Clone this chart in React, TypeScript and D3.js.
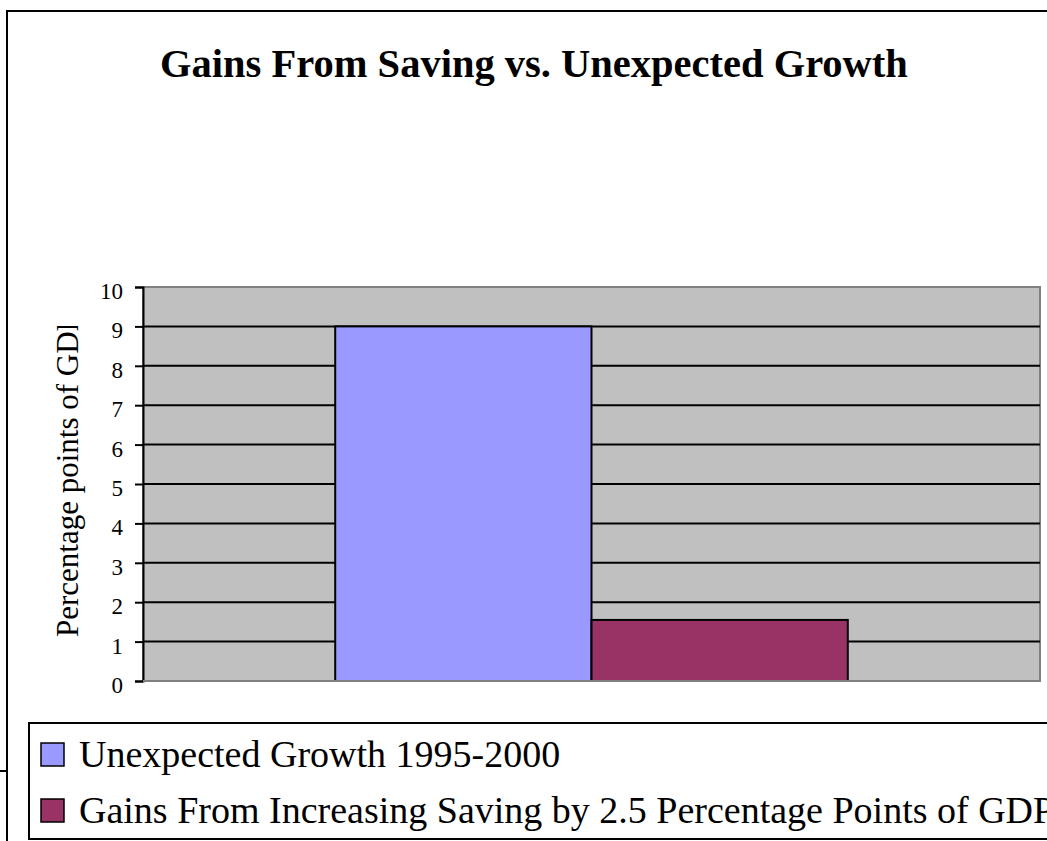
import React, { useRef, useEffect } from 'react';
import * as d3 from 'd3';

const categories = ['1995-2000'];
const seriesNames = [
    'Unexpected Growth 1995-2000',
    'Gains From Increasing Saving by 2.5 Percentage Points of GDP',
];
const seriesValues = [9, 1.55];
const seriesColors = ['#9999FF', '#993366'];
const yTicks = [0, 1, 2, 3, 4, 5, 6, 7, 8, 9, 10];

const title = 'Gains From Saving vs. Unexpected Growth';
const yTitle = 'Percentage points of GDP';

const W = 1047;
const H = 841;

const App: React.FC = () => {
    const ref = useRef<SVGSVGElement | null>(null);

    useEffect(() => {
        const svg = d3.select(ref.current);
        svg.selectAll('*').remove();

        const font = '"Liberation Serif", "Times New Roman", serif';
        const plot = { left: 143, right: 1040, top: 287, bottom: 681 };

        // outer chart border (runs off the right/bottom edge)
        svg.append('rect')
            .attr('x', 7).attr('y', 11)
            .attr('width', 1100).attr('height', 900)
            .attr('fill', '#fff')
            .attr('stroke', '#000').attr('stroke-width', 2);
        svg.append('line')
            .attr('x1', 0).attr('x2', 7).attr('y1', 771).attr('y2', 771)
            .attr('stroke', '#000').attr('stroke-width', 2);

        svg.append('text')
            .attr('x', 534).attr('y', 77)
            .attr('text-anchor', 'middle')
            .style('font-family', font)
            .style('font-weight', 'bold')
            .style('font-size', '40.5px')
            .text(title);

        const y = d3.scaleLinear().domain([0, 10]).range([plot.bottom, plot.top]);
        const x0 = d3.scaleBand<string>()
            .domain(categories)
            .range([plot.left, plot.right])
            .paddingInner(0)
            .paddingOuter(0.375);
        const x1 = d3.scaleBand<string>()
            .domain(seriesNames)
            .range([0, x0.bandwidth()]);

        // plot area
        svg.append('rect')
            .attr('x', plot.left).attr('y', plot.top)
            .attr('width', plot.right - plot.left)
            .attr('height', plot.bottom - plot.top)
            .attr('fill', '#C0C0C0')
            .attr('stroke', '#808080').attr('stroke-width', 2);

        svg.append('g')
            .selectAll('line')
            .data(yTicks.filter((t) => t > 0 && t < 10))
            .enter()
            .append('line')
            .attr('x1', plot.left).attr('x2', plot.right)
            .attr('y1', (d) => y(d)).attr('y2', (d) => y(d))
            .attr('stroke', '#000').attr('stroke-width', 2);

        const bars = seriesNames.map((name, i) => ({
            name,
            value: seriesValues[i],
            color: seriesColors[i],
            cat: categories[0],
        }));

        svg.append('g')
            .selectAll('rect')
            .data(bars)
            .enter()
            .append('rect')
            .attr('x', (d) => (x0(d.cat) as number) + (x1(d.name) as number))
            .attr('y', (d) => y(d.value))
            .attr('width', x1.bandwidth())
            .attr('height', (d) => y(0) - y(d.value))
            .attr('fill', (d) => d.color)
            .attr('stroke', '#000').attr('stroke-width', 2);

        // y axis
        const axis = svg.append('g')
            .attr('transform', `translate(${plot.left},0)`)
            .call(d3.axisLeft(y).tickValues(yTicks).tickSize(8).tickPadding(12).tickFormat(d3.format('d')));
        axis.attr('font-size', null).attr('font-family', null);
        axis.select('.domain').attr('stroke', '#000').attr('stroke-width', 2);
        axis.selectAll('.tick line').attr('stroke', '#000').attr('stroke-width', 2);
        axis.selectAll('.tick text')
            .attr('dy', '0.5em')
            .style('font-family', font)
            .style('font-size', '23px')
            .attr('fill', '#000');

        // x axis line (gray)
        svg.append('line')
            .attr('x1', plot.left).attr('x2', plot.right)
            .attr('y1', plot.bottom).attr('y2', plot.bottom)
            .attr('stroke', '#808080').attr('stroke-width', 2);

        // y-axis title, clipped at the top like the original
        svg.append('clipPath').attr('id', 'ytclip')
            .append('rect').attr('x', 0).attr('y', 326).attr('width', 140).attr('height', 400);
        svg.append('g')
            .attr('clip-path', 'url(#ytclip)')
            .append('text')
            .attr('transform', 'translate(78,637) rotate(-90)')
            .attr('text-anchor', 'start')
            .style('font-family', font)
            .style('font-size', '31px')
            .text(yTitle);

        // legend
        svg.append('rect')
            .attr('x', 29).attr('y', 723)
            .attr('width', 1100).attr('height', 116)
            .attr('fill', '#fff')
            .attr('stroke', '#000').attr('stroke-width', 2);

        const lg = svg.append('g')
            .selectAll('g')
            .data(bars)
            .enter()
            .append('g')
            .attr('transform', (_d, i) => `translate(41,${743 + i * 56})`);
        lg.append('rect')
            .attr('width', 23).attr('height', 23)
            .attr('fill', (d) => d.color)
            .attr('stroke', '#000').attr('stroke-width', 1.5);
        lg.append('text')
            .attr('x', 38).attr('y', 24)
            .style('font-family', font)
            .style('font-size', '38px')
            .text((d) => d.name);
    }, []);

    return (
        <svg
            ref={ref}
            width={W}
            height={H}
            style={{ position: 'absolute', left: 0, top: 0, background: '#fff' }}
        />
    );
};

export default App;
